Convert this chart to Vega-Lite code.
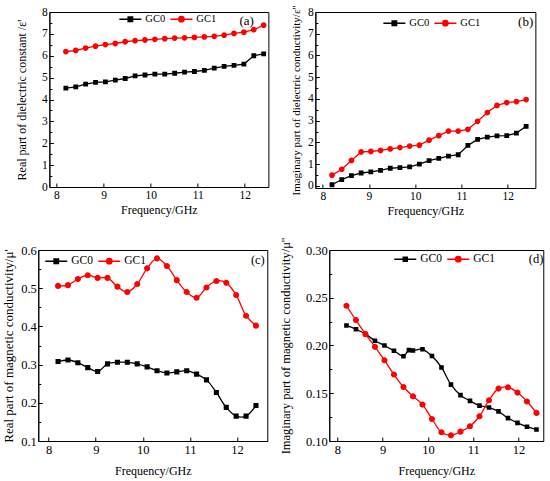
{
  "$schema": "https://vega.github.io/schema/vega-lite/v6.json",
  "background": "#ffffff",
  "padding": {"left": 2, "top": 4, "right": 2, "bottom": 2},
  "config": {
    "font": "Liberation Serif",
    "view": {"stroke": "#000000", "strokeWidth": 1},
    "axis": {
      "grid": false,
      "labelFont": "Liberation Serif",
      "titleFont": "Liberation Serif",
      "titleFontWeight": "normal",
      "labelColor": "#000000",
      "titleColor": "#000000",
      "domainColor": "#000000",
      "tickColor": "#000000",
      "labelPadding": 6,
      "titlePadding": 4,
      "labelFontSize": 11.5,
      "titleFontSize": 12,
      "labelOverlap": false,
      "labelFlush": false
    },
    "legend": {
      "orient": "none",
      "direction": "horizontal",
      "title": null,
      "labelFont": "Liberation Serif",
      "labelColor": "#000000",
      "labelOffset": 3,
      "columnPadding": 2,
      "symbolSize": 484,
      "symbolStrokeWidth": 1.5,
      "symbolOpacity": 1,
      "padding": 0
    }
  },
  "datasets": {
    "a": [
      {"f": 8.2, "v": 4.52, "s": "GC0"}, {"f": 8.41, "v": 4.58, "s": "GC0"}, {"f": 8.62, "v": 4.7, "s": "GC0"},
      {"f": 8.83, "v": 4.78, "s": "GC0"}, {"f": 9.04, "v": 4.81, "s": "GC0"}, {"f": 9.25, "v": 4.89, "s": "GC0"},
      {"f": 9.46, "v": 4.96, "s": "GC0"}, {"f": 9.67, "v": 5.08, "s": "GC0"}, {"f": 9.88, "v": 5.12, "s": "GC0"},
      {"f": 10.09, "v": 5.16, "s": "GC0"}, {"f": 10.3, "v": 5.16, "s": "GC0"}, {"f": 10.51, "v": 5.2, "s": "GC0"},
      {"f": 10.72, "v": 5.25, "s": "GC0"}, {"f": 10.93, "v": 5.28, "s": "GC0"}, {"f": 11.14, "v": 5.33, "s": "GC0"},
      {"f": 11.35, "v": 5.43, "s": "GC0"}, {"f": 11.56, "v": 5.51, "s": "GC0"}, {"f": 11.77, "v": 5.56, "s": "GC0"},
      {"f": 11.98, "v": 5.62, "s": "GC0"}, {"f": 12.19, "v": 6.0, "s": "GC0"}, {"f": 12.4, "v": 6.09, "s": "GC0"},
      {"f": 8.2, "v": 6.19, "s": "GC1"}, {"f": 8.41, "v": 6.24, "s": "GC1"}, {"f": 8.62, "v": 6.35, "s": "GC1"},
      {"f": 8.83, "v": 6.44, "s": "GC1"}, {"f": 9.04, "v": 6.51, "s": "GC1"}, {"f": 9.25, "v": 6.56, "s": "GC1"},
      {"f": 9.46, "v": 6.64, "s": "GC1"}, {"f": 9.67, "v": 6.69, "s": "GC1"}, {"f": 9.88, "v": 6.72, "s": "GC1"},
      {"f": 10.09, "v": 6.75, "s": "GC1"}, {"f": 10.3, "v": 6.78, "s": "GC1"}, {"f": 10.51, "v": 6.81, "s": "GC1"},
      {"f": 10.72, "v": 6.82, "s": "GC1"}, {"f": 10.93, "v": 6.84, "s": "GC1"}, {"f": 11.14, "v": 6.86, "s": "GC1"},
      {"f": 11.35, "v": 6.89, "s": "GC1"}, {"f": 11.56, "v": 6.94, "s": "GC1"}, {"f": 11.77, "v": 7.02, "s": "GC1"},
      {"f": 11.98, "v": 7.08, "s": "GC1"}, {"f": 12.19, "v": 7.19, "s": "GC1"}, {"f": 12.4, "v": 7.4, "s": "GC1"}
    ],
    "b": [
      {"f": 8.2, "v": 0.05, "s": "GC0"}, {"f": 8.41, "v": 0.29, "s": "GC0"}, {"f": 8.62, "v": 0.47, "s": "GC0"},
      {"f": 8.83, "v": 0.59, "s": "GC0"}, {"f": 9.04, "v": 0.64, "s": "GC0"}, {"f": 9.25, "v": 0.71, "s": "GC0"},
      {"f": 9.46, "v": 0.81, "s": "GC0"}, {"f": 9.67, "v": 0.84, "s": "GC0"}, {"f": 9.88, "v": 0.87, "s": "GC0"},
      {"f": 10.09, "v": 1.0, "s": "GC0"}, {"f": 10.3, "v": 1.16, "s": "GC0"}, {"f": 10.51, "v": 1.26, "s": "GC0"},
      {"f": 10.72, "v": 1.37, "s": "GC0"}, {"f": 10.93, "v": 1.43, "s": "GC0"}, {"f": 11.14, "v": 1.86, "s": "GC0"},
      {"f": 11.35, "v": 2.14, "s": "GC0"}, {"f": 11.56, "v": 2.24, "s": "GC0"}, {"f": 11.77, "v": 2.3, "s": "GC0"},
      {"f": 11.98, "v": 2.31, "s": "GC0"}, {"f": 12.19, "v": 2.43, "s": "GC0"}, {"f": 12.4, "v": 2.74, "s": "GC0"},
      {"f": 8.2, "v": 0.49, "s": "GC1"}, {"f": 8.41, "v": 0.76, "s": "GC1"}, {"f": 8.62, "v": 1.17, "s": "GC1"},
      {"f": 8.83, "v": 1.56, "s": "GC1"}, {"f": 9.04, "v": 1.58, "s": "GC1"}, {"f": 9.25, "v": 1.63, "s": "GC1"},
      {"f": 9.46, "v": 1.7, "s": "GC1"}, {"f": 9.67, "v": 1.76, "s": "GC1"}, {"f": 9.88, "v": 1.83, "s": "GC1"},
      {"f": 10.09, "v": 1.87, "s": "GC1"}, {"f": 10.3, "v": 2.1, "s": "GC1"}, {"f": 10.51, "v": 2.31, "s": "GC1"},
      {"f": 10.72, "v": 2.52, "s": "GC1"}, {"f": 10.93, "v": 2.52, "s": "GC1"}, {"f": 11.14, "v": 2.6, "s": "GC1"},
      {"f": 11.35, "v": 2.97, "s": "GC1"}, {"f": 11.56, "v": 3.37, "s": "GC1"}, {"f": 11.77, "v": 3.7, "s": "GC1"},
      {"f": 11.98, "v": 3.83, "s": "GC1"}, {"f": 12.19, "v": 3.88, "s": "GC1"}, {"f": 12.4, "v": 3.97, "s": "GC1"}
    ],
    "c": [
      {"f": 8.2, "v": 0.308, "s": "GC0"}, {"f": 8.41, "v": 0.312, "s": "GC0"}, {"f": 8.62, "v": 0.305, "s": "GC0"},
      {"f": 8.83, "v": 0.292, "s": "GC0"}, {"f": 9.04, "v": 0.282, "s": "GC0"}, {"f": 9.25, "v": 0.302, "s": "GC0"},
      {"f": 9.46, "v": 0.306, "s": "GC0"}, {"f": 9.67, "v": 0.306, "s": "GC0"}, {"f": 9.88, "v": 0.302, "s": "GC0"},
      {"f": 10.09, "v": 0.294, "s": "GC0"}, {"f": 10.3, "v": 0.284, "s": "GC0"}, {"f": 10.51, "v": 0.278, "s": "GC0"},
      {"f": 10.72, "v": 0.281, "s": "GC0"}, {"f": 10.93, "v": 0.284, "s": "GC0"}, {"f": 11.14, "v": 0.275, "s": "GC0"},
      {"f": 11.35, "v": 0.26, "s": "GC0"}, {"f": 11.56, "v": 0.227, "s": "GC0"}, {"f": 11.77, "v": 0.188, "s": "GC0"},
      {"f": 11.98, "v": 0.165, "s": "GC0"}, {"f": 12.19, "v": 0.165, "s": "GC0"}, {"f": 12.4, "v": 0.193, "s": "GC0"},
      {"f": 8.2, "v": 0.506, "s": "GC1"}, {"f": 8.41, "v": 0.508, "s": "GC1"}, {"f": 8.62, "v": 0.524, "s": "GC1"},
      {"f": 8.83, "v": 0.534, "s": "GC1"}, {"f": 9.04, "v": 0.527, "s": "GC1"}, {"f": 9.25, "v": 0.527, "s": "GC1"},
      {"f": 9.46, "v": 0.504, "s": "GC1"}, {"f": 9.67, "v": 0.49, "s": "GC1"}, {"f": 9.88, "v": 0.511, "s": "GC1"},
      {"f": 10.09, "v": 0.552, "s": "GC1"}, {"f": 10.3, "v": 0.578, "s": "GC1"}, {"f": 10.51, "v": 0.558, "s": "GC1"},
      {"f": 10.72, "v": 0.521, "s": "GC1"}, {"f": 10.93, "v": 0.49, "s": "GC1"}, {"f": 11.14, "v": 0.475, "s": "GC1"},
      {"f": 11.35, "v": 0.502, "s": "GC1"}, {"f": 11.56, "v": 0.519, "s": "GC1"}, {"f": 11.77, "v": 0.514, "s": "GC1"},
      {"f": 11.98, "v": 0.482, "s": "GC1"}, {"f": 12.19, "v": 0.428, "s": "GC1"}, {"f": 12.4, "v": 0.402, "s": "GC1"}
    ],
    "d": [
      {"f": 8.2, "v": 0.221, "s": "GC0"}, {"f": 8.41, "v": 0.217, "s": "GC0"}, {"f": 8.62, "v": 0.212, "s": "GC0"},
      {"f": 8.83, "v": 0.205, "s": "GC0"}, {"f": 9.04, "v": 0.2, "s": "GC0"}, {"f": 9.25, "v": 0.1945, "s": "GC0"},
      {"f": 9.46, "v": 0.1888, "s": "GC0"}, {"f": 9.58, "v": 0.1952, "s": "GC0"}, {"f": 9.67, "v": 0.1948, "s": "GC0"},
      {"f": 9.88, "v": 0.196, "s": "GC0"}, {"f": 10.09, "v": 0.189, "s": "GC0"}, {"f": 10.3, "v": 0.177, "s": "GC0"},
      {"f": 10.51, "v": 0.159, "s": "GC0"}, {"f": 10.72, "v": 0.148, "s": "GC0"}, {"f": 10.93, "v": 0.142, "s": "GC0"},
      {"f": 11.14, "v": 0.137, "s": "GC0"}, {"f": 11.35, "v": 0.135, "s": "GC0"}, {"f": 11.56, "v": 0.131, "s": "GC0"},
      {"f": 11.77, "v": 0.124, "s": "GC0"}, {"f": 11.98, "v": 0.119, "s": "GC0"}, {"f": 12.19, "v": 0.115, "s": "GC0"},
      {"f": 12.4, "v": 0.112, "s": "GC0"},
      {"f": 8.2, "v": 0.2416, "s": "GC1"}, {"f": 8.41, "v": 0.2266, "s": "GC1"}, {"f": 8.62, "v": 0.2119, "s": "GC1"},
      {"f": 8.83, "v": 0.1986, "s": "GC1"}, {"f": 9.04, "v": 0.1846, "s": "GC1"}, {"f": 9.25, "v": 0.1696, "s": "GC1"},
      {"f": 9.46, "v": 0.1566, "s": "GC1"}, {"f": 9.67, "v": 0.1469, "s": "GC1"}, {"f": 9.88, "v": 0.1381, "s": "GC1"},
      {"f": 10.09, "v": 0.1231, "s": "GC1"}, {"f": 10.3, "v": 0.1091, "s": "GC1"}, {"f": 10.51, "v": 0.1059, "s": "GC1"},
      {"f": 10.72, "v": 0.1098, "s": "GC1"}, {"f": 10.93, "v": 0.1154, "s": "GC1"}, {"f": 11.14, "v": 0.1259, "s": "GC1"},
      {"f": 11.35, "v": 0.1427, "s": "GC1"}, {"f": 11.56, "v": 0.1549, "s": "GC1"}, {"f": 11.77, "v": 0.1563, "s": "GC1"},
      {"f": 11.98, "v": 0.1507, "s": "GC1"}, {"f": 12.19, "v": 0.1413, "s": "GC1"}, {"f": 12.4, "v": 0.1294, "s": "GC1"}
    ]
  },
  "center": true,
  "spacing": 19,
  "resolve": {
    "scale": {"x": "independent", "y": "independent", "stroke": "independent", "fill": "independent", "shape": "independent"},
    "legend": {"stroke": "independent", "fill": "independent", "shape": "independent"}
  },
  "vconcat": [
    {
      "spacing": 13,
      "resolve": {
        "scale": {"x": "independent", "y": "independent", "stroke": "independent", "fill": "independent", "shape": "independent"},
        "legend": {"stroke": "independent", "fill": "independent", "shape": "independent"}
      },
      "hconcat": [
        {
          "width": 219,
          "height": 175,
          "resolve": {"axis": {"y": "independent"}},
          "layer": [
            {
              "data": {"name": "a"},
              "mark": {"type": "line", "strokeWidth": 1.3},
              "encoding": {
                "x": {
                  "field": "f", "type": "quantitative",
                  "scale": {"domain": [7.85, 12.5], "nice": false, "zero": false},
                  "axis": {
                    "title": "Frequency/GHz",
                    "values": [8, 8.5, 9, 9.5, 10, 10.5, 11, 11.5, 12, 12.5],
                    "format": "d",
                    "labelExpr": "abs(datum.value - round(datum.value)) > 0.01 ? '' : datum.label",
                    "tickSize": {"condition": {"test": "abs(datum.value - round(datum.value)) > 0.01", "value": -2.5}, "value": -4}
                  }
                },
                "y": {
                  "field": "v", "type": "quantitative",
                  "scale": {"domain": [0, 8], "nice": false, "zero": false},
                  "axis": {
                    "title": "Real part of dielectric constant /ε'",
                    "orient": "left",
                    "values": [0, 1, 2, 3, 4, 5, 6, 7, 8],
                    "format": "d",
                    "titlePadding": 13,
                    "tickSize": -4
                  }
                },
                "stroke": {
                  "field": "s", "type": "nominal",
                  "scale": {"domain": ["GC0", "GC1"], "range": ["#000000", "#ff0000"]},
                  "legend": {"legendX": 69, "legendY": -5, "labelFontSize": 10.5}
                }
              }
            },
            {
              "data": {"name": "a"},
              "mark": {"type": "point", "filled": true, "strokeWidth": 0, "opacity": 1, "size": 576},
              "encoding": {
                "x": {"field": "f", "type": "quantitative"},
                "y": {"field": "v", "type": "quantitative", "axis": null},
                "stroke": {"field": "s", "type": "nominal", "scale": {"domain": ["GC0", "GC1"], "range": ["#000000", "#ff0000"]}, "legend": {"legendX": 69, "legendY": -5, "labelFontSize": 10.5}},
                "fill": {"field": "s", "type": "nominal", "scale": {"domain": ["GC0", "GC1"], "range": ["#000000", "#ff0000"]}, "legend": {"legendX": 69, "legendY": -5, "labelFontSize": 10.5}},
                "shape": {"field": "s", "type": "nominal", "scale": {"domain": ["GC0", "GC1"], "range": ["M-1,0H1M-0.2,-0.2H0.2V0.2H-0.2Z", "M-1,0H1M-0.24,0A0.24,0.24,0,1,0,0.24,0A0.24,0.24,0,1,0,-0.24,0Z"]}, "legend": {"legendX": 69, "legendY": -5, "labelFontSize": 10.5}}
              }
            },
            {
              "data": {"values": [{"t": "(a)"}]},
              "mark": {"type": "text", "font": "Liberation Serif", "fontSize": 13, "color": "#000000"},
              "encoding": {
                "x": {"datum": 12.04, "type": "quantitative"},
                "y": {"datum": 7.6, "type": "quantitative", "axis": {"orient": "left", "values": [0.5, 1.5, 2.5, 3.5, 4.5, 5.5, 6.5, 7.5], "labels": false, "title": null, "domain": false, "tickSize": -2.5}},
                "text": {"field": "t"}
              }
            }
          ]
        },
        {
          "width": 220,
          "height": 176,
          "resolve": {"axis": {"y": "independent"}},
          "layer": [
            {
              "data": {"name": "b"},
              "mark": {"type": "line", "strokeWidth": 1.3},
              "encoding": {
                "x": {
                  "field": "f", "type": "quantitative",
                  "scale": {"domain": [7.84, 12.6], "nice": false, "zero": false},
                  "axis": {
                    "title": "Frequency/GHz",
                    "values": [8, 8.5, 9, 9.5, 10, 10.5, 11, 11.5, 12, 12.5],
                    "format": "d",
                    "labelExpr": "abs(datum.value - round(datum.value)) > 0.01 ? '' : datum.label",
                    "tickSize": {"condition": {"test": "abs(datum.value - round(datum.value)) > 0.01", "value": -2.5}, "value": -4}
                  }
                },
                "y": {
                  "field": "v", "type": "quantitative",
                  "scale": {"domain": [-0.1, 8], "nice": false, "zero": false},
                  "axis": {
                    "title": "Imaginary part of dielectric conductivity/ε''",
                    "orient": "left",
                    "titleFontSize": 11,
                    "values": [0, 1, 2, 3, 4, 5, 6, 7, 8],
                    "format": "d",
                    "titlePadding": 6,
                    "tickSize": -4
                  }
                },
                "stroke": {
                  "field": "s", "type": "nominal",
                  "scale": {"domain": ["GC0", "GC1"], "range": ["#000000", "#ff0000"]},
                  "legend": {"legendX": 67, "legendY": -1, "labelFontSize": 10.5}
                }
              }
            },
            {
              "data": {"name": "b"},
              "mark": {"type": "point", "filled": true, "strokeWidth": 0, "opacity": 1, "size": 576},
              "encoding": {
                "x": {"field": "f", "type": "quantitative"},
                "y": {"field": "v", "type": "quantitative", "axis": null},
                "stroke": {"field": "s", "type": "nominal", "scale": {"domain": ["GC0", "GC1"], "range": ["#000000", "#ff0000"]}, "legend": {"legendX": 67, "legendY": -1, "labelFontSize": 10.5}},
                "fill": {"field": "s", "type": "nominal", "scale": {"domain": ["GC0", "GC1"], "range": ["#000000", "#ff0000"]}, "legend": {"legendX": 67, "legendY": -1, "labelFontSize": 10.5}},
                "shape": {"field": "s", "type": "nominal", "scale": {"domain": ["GC0", "GC1"], "range": ["M-1,0H1M-0.2,-0.2H0.2V0.2H-0.2Z", "M-1,0H1M-0.24,0A0.24,0.24,0,1,0,0.24,0A0.24,0.24,0,1,0,-0.24,0Z"]}, "legend": {"legendX": 67, "legendY": -1, "labelFontSize": 10.5}}
              }
            },
            {
              "data": {"values": [{"t": "(b)"}]},
              "mark": {"type": "text", "font": "Liberation Serif", "fontSize": 13, "color": "#000000"},
              "encoding": {
                "x": {"datum": 12.39, "type": "quantitative"},
                "y": {"datum": 7.53, "type": "quantitative", "axis": {"orient": "left", "values": [0.5, 1.5, 2.5, 3.5, 4.5, 5.5, 6.5, 7.5], "labels": false, "title": null, "domain": false, "tickSize": -2.5}},
                "text": {"field": "t"}
              }
            }
          ]
        }
      ]
    },
    {
      "spacing": 9,
      "resolve": {
        "scale": {"x": "independent", "y": "independent", "stroke": "independent", "fill": "independent", "shape": "independent"},
        "legend": {"stroke": "independent", "fill": "independent", "shape": "independent"}
      },
      "hconcat": [
        {
          "width": 229,
          "height": 191,
          "resolve": {"axis": {"y": "independent"}},
          "layer": [
            {
              "data": {"name": "c"},
              "mark": {"type": "line", "strokeWidth": 1.3, "interpolate": "catmull-rom"},
              "encoding": {
                "x": {
                  "field": "f", "type": "quantitative",
                  "scale": {"domain": [7.78, 12.64], "nice": false, "zero": false},
                  "axis": {
                    "title": "Frequency/GHz",
                    "titlePadding": 10,
                    "values": [8, 8.5, 9, 9.5, 10, 10.5, 11, 11.5, 12, 12.5],
                    "format": "d",
                    "labelFontSize": 12.5,
                    "labelExpr": "abs(datum.value - round(datum.value)) > 0.01 ? '' : datum.label",
                    "tickSize": {"condition": {"test": "abs(datum.value - round(datum.value)) > 0.01", "value": -2.5}, "value": -4}
                  }
                },
                "y": {
                  "field": "v", "type": "quantitative",
                  "scale": {"domain": [0.1, 0.6], "nice": false, "zero": false},
                  "axis": {
                    "title": "Real part of magnetic conductivity/μ'",
                    "orient": "left",
                    "titleFontSize": 13,
                    "labelFontSize": 12.5,
                    "values": [0.1, 0.2, 0.3, 0.4, 0.5, 0.6],
                    "format": ".1f",
                    "titlePadding": 5,
                    "tickSize": -4
                  }
                },
                "stroke": {
                  "field": "s", "type": "nominal",
                  "scale": {"domain": ["GC0", "GC1"], "range": ["#000000", "#ff0000"]},
                  "legend": {"legendX": 6, "legendY": -1, "labelFontSize": 11.5}
                }
              }
            },
            {
              "data": {"name": "c"},
              "mark": {"type": "point", "filled": true, "strokeWidth": 0, "opacity": 1, "size": 650},
              "encoding": {
                "x": {"field": "f", "type": "quantitative"},
                "y": {"field": "v", "type": "quantitative", "axis": null},
                "stroke": {"field": "s", "type": "nominal", "scale": {"domain": ["GC0", "GC1"], "range": ["#000000", "#ff0000"]}, "legend": {"legendX": 6, "legendY": -1, "labelFontSize": 11.5}},
                "fill": {"field": "s", "type": "nominal", "scale": {"domain": ["GC0", "GC1"], "range": ["#000000", "#ff0000"]}, "legend": {"legendX": 6, "legendY": -1, "labelFontSize": 11.5}},
                "shape": {"field": "s", "type": "nominal", "scale": {"domain": ["GC0", "GC1"], "range": ["M-1,0H1M-0.2,-0.2H0.2V0.2H-0.2Z", "M-1,0H1M-0.24,0A0.24,0.24,0,1,0,0.24,0A0.24,0.24,0,1,0,-0.24,0Z"]}, "legend": {"legendX": 6, "legendY": -1, "labelFontSize": 11.5}}
              }
            },
            {
              "data": {"values": [{"t": "(c)"}]},
              "mark": {"type": "text", "font": "Liberation Serif", "fontSize": 12.5, "color": "#000000"},
              "encoding": {
                "x": {"datum": 12.44, "type": "quantitative"},
                "y": {"datum": 0.573, "type": "quantitative", "axis": {"orient": "left", "values": [0.15, 0.25, 0.35, 0.45, 0.55], "labels": false, "title": null, "domain": false, "tickSize": -2.5}},
                "text": {"field": "t"}
              }
            }
          ]
        },
        {
          "width": 214,
          "height": 191,
          "resolve": {"axis": {"y": "independent"}},
          "layer": [
            {
              "data": {"name": "d"},
              "mark": {"type": "line", "strokeWidth": 1.3, "interpolate": "catmull-rom"},
              "encoding": {
                "x": {
                  "field": "f", "type": "quantitative",
                  "scale": {"domain": [7.82, 12.55], "nice": false, "zero": false},
                  "axis": {
                    "title": "Frequency/GHz",
                    "titlePadding": 10,
                    "values": [8, 8.5, 9, 9.5, 10, 10.5, 11, 11.5, 12, 12.5],
                    "format": "d",
                    "labelFontSize": 12.5,
                    "labelExpr": "abs(datum.value - round(datum.value)) > 0.01 ? '' : datum.label",
                    "tickSize": {"condition": {"test": "abs(datum.value - round(datum.value)) > 0.01", "value": -2.5}, "value": -4}
                  }
                },
                "y": {
                  "field": "v", "type": "quantitative",
                  "scale": {"domain": [0.1, 0.3], "nice": false, "zero": false},
                  "axis": {
                    "title": "Imaginary part of magnetic conductivity/μ''",
                    "orient": "left",
                    "titleFontSize": 12.5,
                    "labelFontSize": 12.5,
                    "values": [0.1, 0.15, 0.2, 0.25, 0.3],
                    "format": ".2f",
                    "titlePadding": 13,
                    "tickSize": -4
                  }
                },
                "stroke": {
                  "field": "s", "type": "nominal",
                  "scale": {"domain": ["GC0", "GC1"], "range": ["#000000", "#ff0000"]},
                  "legend": {"legendX": 64, "legendY": -3, "labelFontSize": 11.5}
                }
              }
            },
            {
              "data": {"name": "d"},
              "mark": {"type": "point", "filled": true, "strokeWidth": 0, "opacity": 1, "size": 650},
              "encoding": {
                "x": {"field": "f", "type": "quantitative"},
                "y": {"field": "v", "type": "quantitative", "axis": null},
                "stroke": {"field": "s", "type": "nominal", "scale": {"domain": ["GC0", "GC1"], "range": ["#000000", "#ff0000"]}, "legend": {"legendX": 64, "legendY": -3, "labelFontSize": 11.5}},
                "fill": {"field": "s", "type": "nominal", "scale": {"domain": ["GC0", "GC1"], "range": ["#000000", "#ff0000"]}, "legend": {"legendX": 64, "legendY": -3, "labelFontSize": 11.5}},
                "shape": {"field": "s", "type": "nominal", "scale": {"domain": ["GC0", "GC1"], "range": ["M-1,0H1M-0.18,-0.18H0.18V0.18H-0.18Z", "M-1,0H1M-0.24,0A0.24,0.24,0,1,0,0.24,0A0.24,0.24,0,1,0,-0.24,0Z"]}, "legend": {"legendX": 64, "legendY": -3, "labelFontSize": 11.5}}
              }
            },
            {
              "data": {"values": [{"t": "(d)"}]},
              "mark": {"type": "text", "font": "Liberation Serif", "fontSize": 12.5, "color": "#000000"},
              "encoding": {
                "x": {"datum": 12.39, "type": "quantitative"},
                "y": {"datum": 0.2906, "type": "quantitative", "axis": {"orient": "left", "values": [0.125, 0.175, 0.225, 0.275], "labels": false, "title": null, "domain": false, "tickSize": -2.5}},
                "text": {"field": "t"}
              }
            }
          ]
        }
      ]
    }
  ]
}
